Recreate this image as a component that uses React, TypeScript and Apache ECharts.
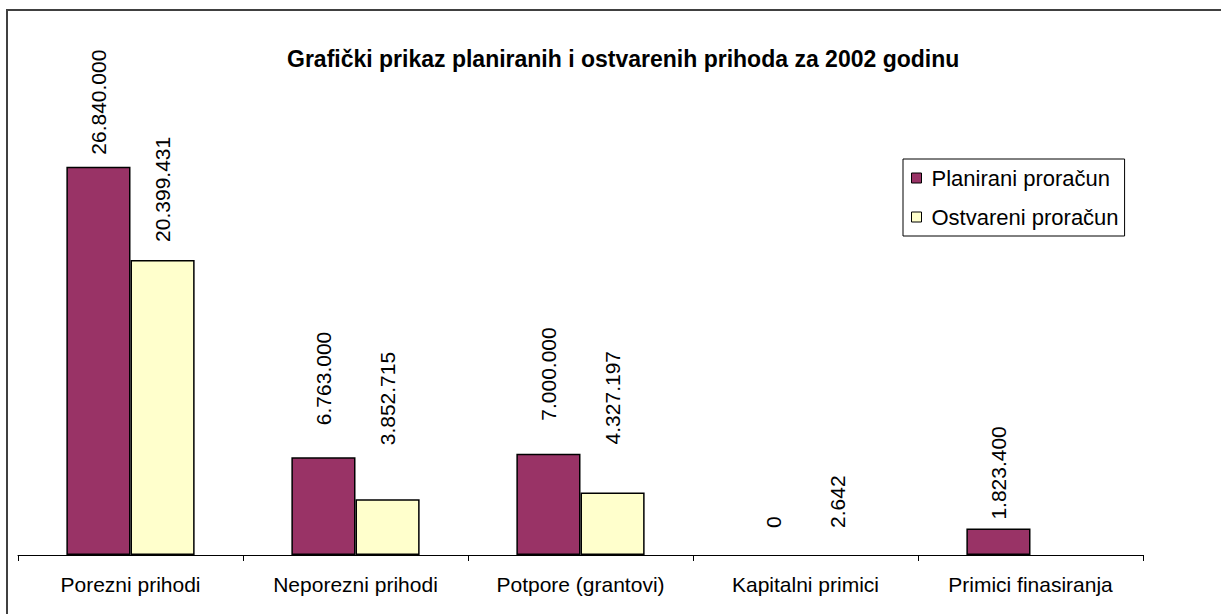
import React, { useEffect, useRef } from "react";
import * as echarts from "echarts";

const categories = [
  "Porezni prihodi",
  "Neporezni prihodi",
  "Potpore (grantovi)",
  "Kapitalni primici",
  "Primici finasiranja",
];
const planirani = [26840000, 6763000, 7000000, 0, 1823400];
const ostvareni: (number | null)[] = [20399431, 3852715, 4327197, 2642, null];
// vertical gap (px) between each bar top and its label, as placed in the original
const planiraniLabelGap = [12, 32, 33, 27, 9];
const ostvareniLabelGap = [18, 54, 48, 27, 0];

const FONT = "'Liberation Sans', Arial, sans-serif";
const Y_MAX = 30000000;

const fmt = (v: number) =>
  Math.round(v)
    .toString()
    .replace(/\B(?=(\d{3})+(?!\d))/g, ".");

function buildData(values: (number | null)[], gaps: number[]) {
  return values.map((v, i) =>
    v === null
      ? "-"
      : {
          value: v,
          label: { distance: gaps[i] },
          // bars too short to be seen carry no outline
          itemStyle: v < Y_MAX / 1000 ? { borderWidth: 0 } : undefined,
        }
  );
}

export default function App() {
  const ref = useRef<HTMLDivElement>(null);
  useEffect(() => {
    if (!ref.current) return;
    const chart = echarts.init(ref.current, undefined, { renderer: "svg" });
    const labelCommon = {
      show: true,
      position: "top",
      rotate: 90,
      align: "left",
      verticalAlign: "middle",
      color: "#000",
      fontSize: 21,
      fontFamily: FONT,
      formatter: (p: any) => fmt(p.value),
    };
    chart.setOption({
      animation: false,
      backgroundColor: "#fff",
      title: {
        text: "Grafički prikaz planiranih i ostvarenih prihoda za 2002 godinu",
        left: 282,
        top: 42,
        textStyle: {
          fontSize: 23,
          fontWeight: "bold",
          fontFamily: FONT,
          color: "#000",
        },
      },
      legend: {
        orient: "vertical",
        left: 903,
        top: 159,
        itemWidth: 10,
        itemHeight: 10,
        itemGap: 17,
        icon: "rect",
        padding: [8, 6, 8, 8],
        borderColor: "#000",
        borderWidth: 1,
        backgroundColor: "#fff",
        textStyle: {
          fontSize: 22,
          fontFamily: FONT,
          color: "#000",
          padding: [0, 0, 0, 5],
        },
        itemStyle: { borderColor: "#000", borderWidth: 1 },
        data: ["Planirani proračun", "Ostvareni proračun"],
      },
      graphic: [
        {
          type: "rect",
          shape: { x: 7, y: 10, width: 1400, height: 800 },
          style: { fill: "none", stroke: "#404040", lineWidth: 2 },
          silent: true,
        },
      ],
      grid: { left: 18, right: 78, top: 121, bottom: 59 },
      xAxis: {
        type: "category",
        data: categories,
        axisLine: { lineStyle: { color: "#000", width: 1 } },
        axisTick: { show: true, length: 6, lineStyle: { color: "#000" } },
        axisLabel: {
          color: "#000",
          fontSize: 21,
          fontFamily: FONT,
          margin: 19,
          interval: 0,
        },
      },
      yAxis: {
        type: "value",
        min: 0,
        max: Y_MAX,
        show: false,
        splitLine: { show: false },
      },
      series: [
        {
          name: "Planirani proračun",
          type: "bar",
          data: buildData(planirani, planiraniLabelGap),
          barGap: "0%",
          barCategoryGap: "43%",
          itemStyle: { color: "#993366", borderColor: "#000", borderWidth: 1.5 },
          label: labelCommon,
        },
        {
          name: "Ostvareni proračun",
          type: "bar",
          data: buildData(ostvareni, ostvareniLabelGap),
          itemStyle: { color: "#FFFFCC", borderColor: "#000", borderWidth: 1.5 },
          label: labelCommon,
        },
      ],
    });
    return () => chart.dispose();
  }, []);
  return (
    <div
      ref={ref}
      style={{ position: "absolute", left: 0, top: 0, width: 1221, height: 614 }}
    />
  );
}
